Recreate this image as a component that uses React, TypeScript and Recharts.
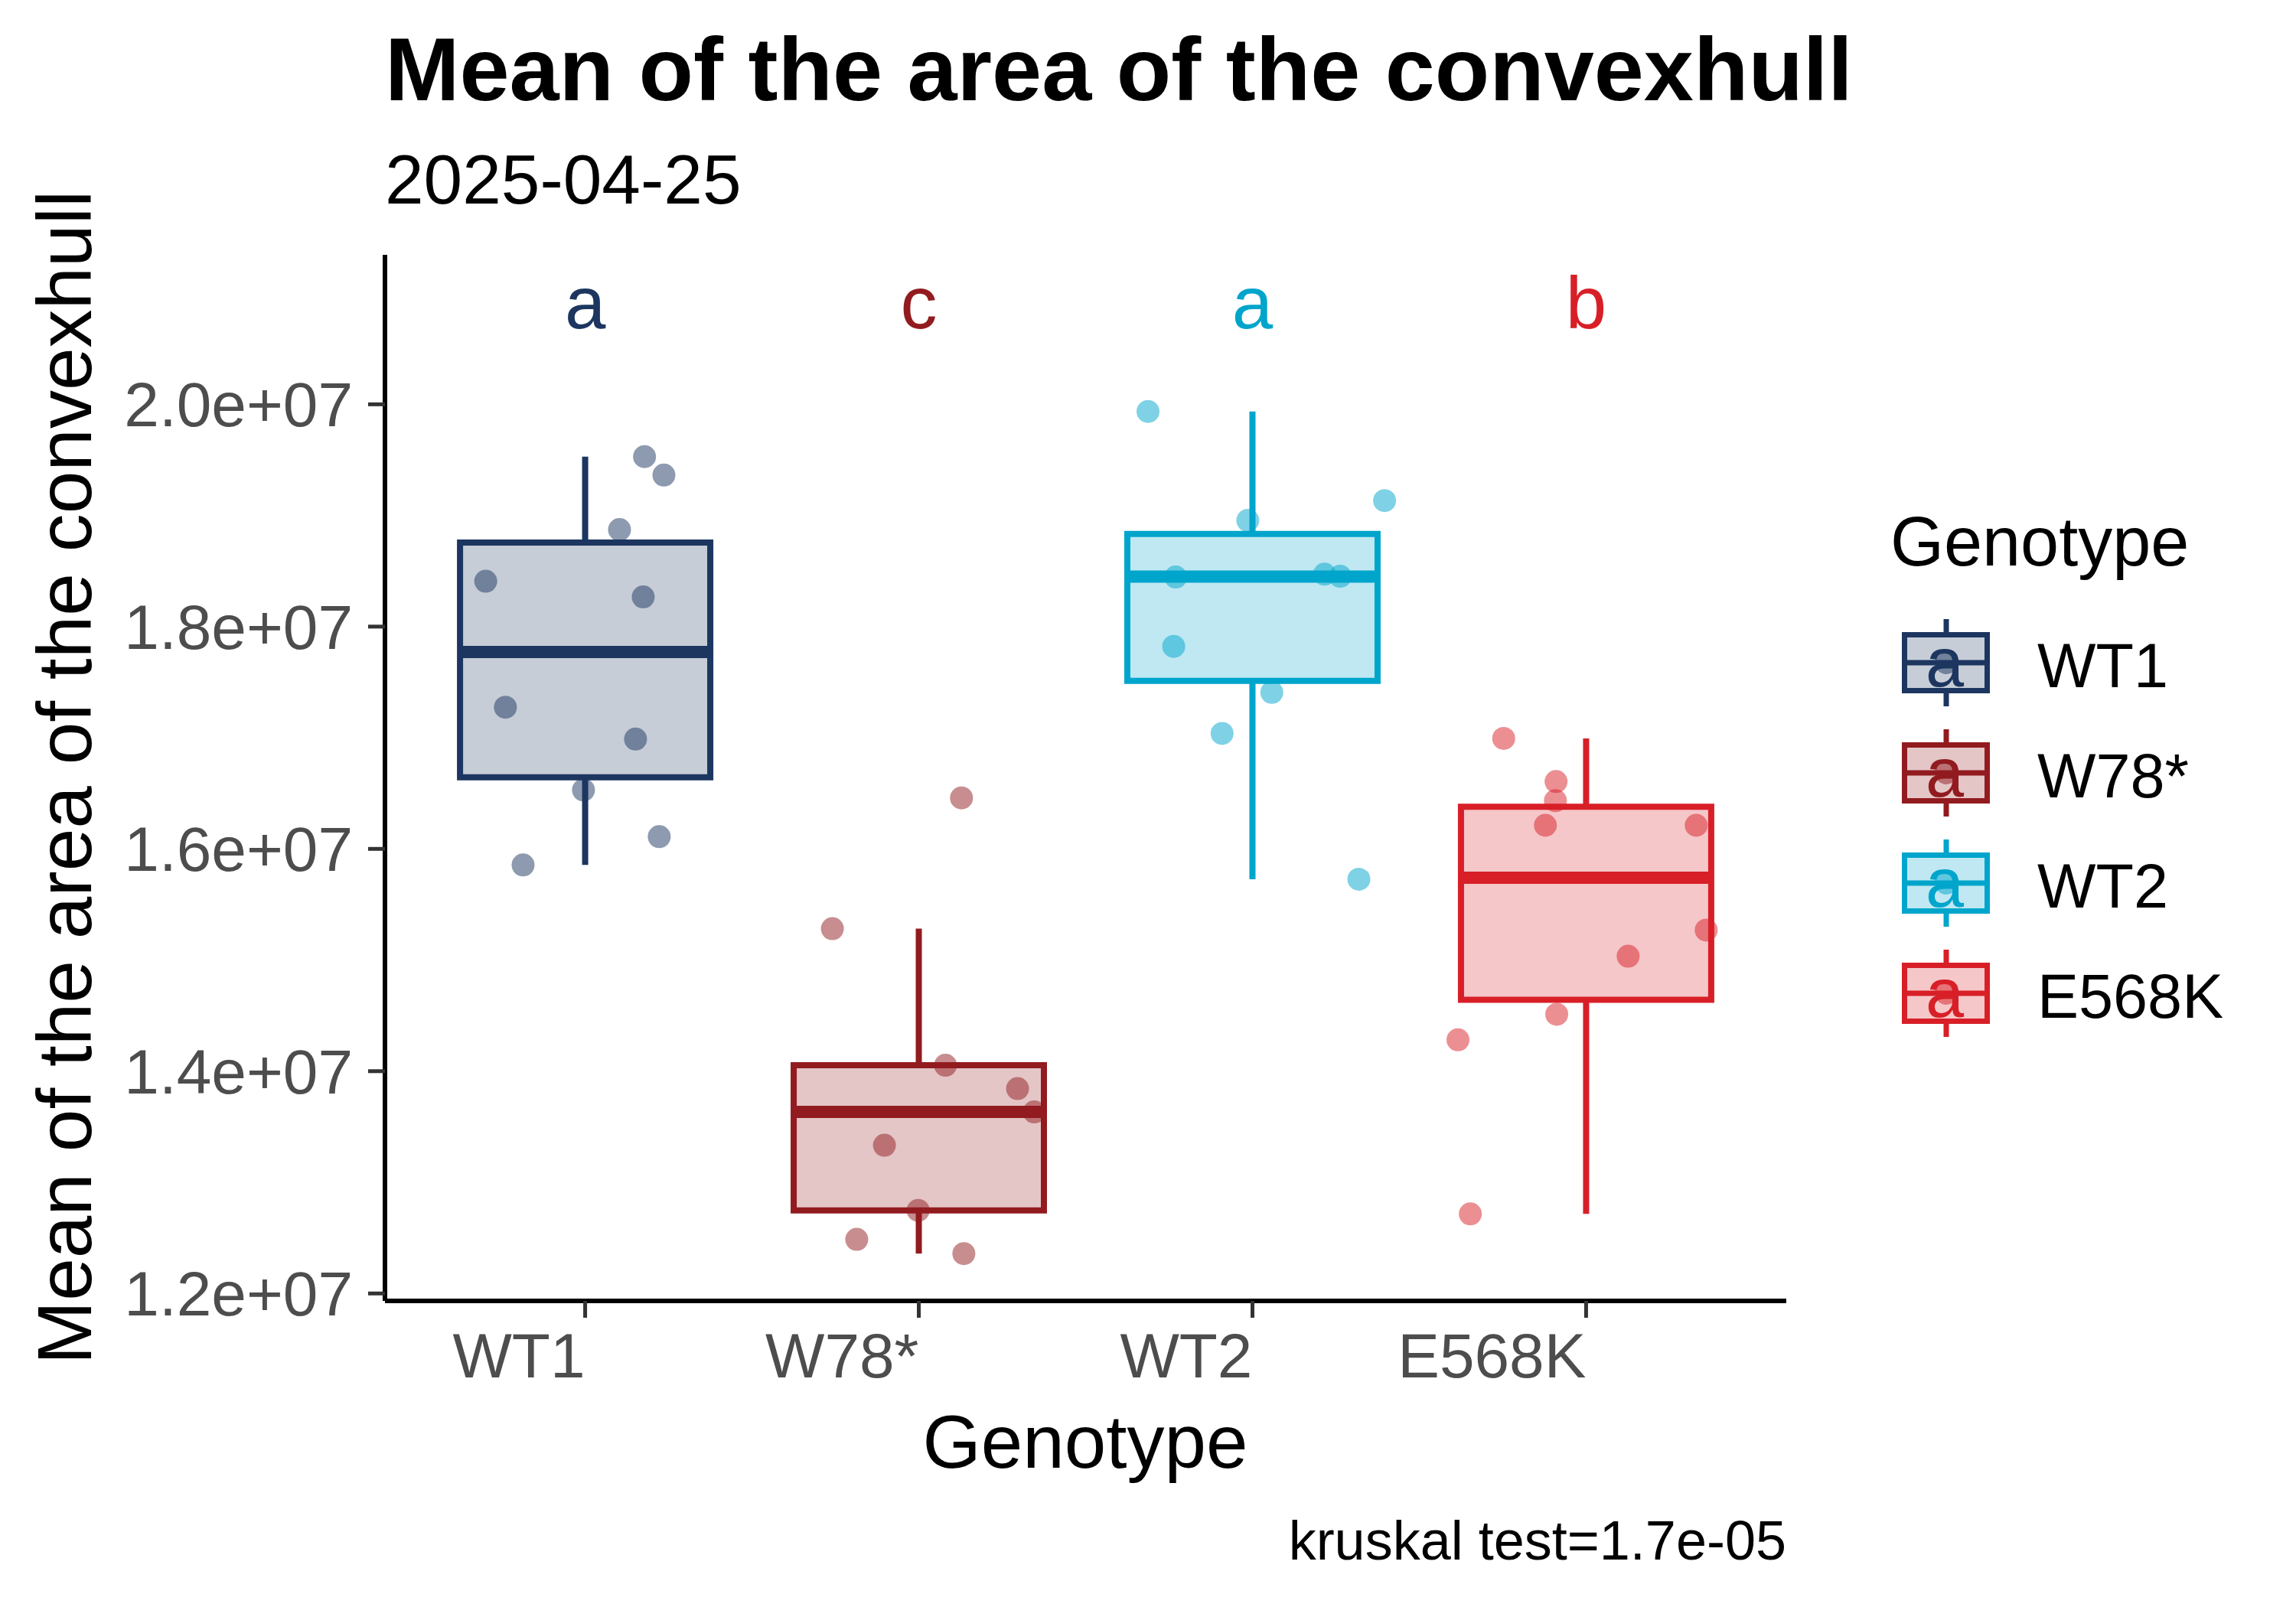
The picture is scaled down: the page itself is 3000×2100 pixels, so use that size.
import { ComposedChart, Scatter, XAxis, YAxis, ReferenceArea, ReferenceLine } from "recharts";

// genotypes, colours and significance letters
const genotypes = ["WT1", "W78*", "WT2", "E568K"];
const colors = ["#1C3660", "#921B1F", "#00A5CC", "#D81F27"];
const sigLetters = ["a", "c", "a", "b"];
const yTicks = [12000000, 14000000, 16000000, 18000000, 20000000];

// mean convex hull area per sample, with the horizontal jitter
const wt1Area = [19529000, 19363000, 18873000, 18408000, 18267000, 17275000, 16988000, 16530000, 16110000, 15855000];
const wt1Jitter = [0.178, 0.236, 0.103, -0.298, 0.174, -0.239, 0.151, -0.005, 0.222, -0.186];

const w78Area = [16459000, 15282000, 14053000, 13843000, 13633000, 13334000, 12748000, 12487000, 12359000];
const w78Jitter = [0.128, -0.259, 0.08, 0.296, 0.346, -0.103, -0.002, -0.186, 0.135];

const wt2Area = [19936000, 19134000, 18955000, 18446000, 18472000, 18453000, 17822000, 17408000, 17039000, 15727000];
const wt2Jitter = [-0.313, 0.396, -0.014, -0.23, 0.216, 0.263, -0.236, 0.058, -0.091, 0.319];

const e568kArea = [16994000, 16606000, 16434000, 16212000, 16212000, 15269000, 15034000, 14512000, 14282000, 12716000];
const e568kJitter = [-0.247, -0.09, -0.092, -0.122, 0.33, 0.36, 0.126, -0.088, -0.384, -0.347];

const letterY = 20920000;
const kruskal = "kruskal test=1.7e-05";

const areas = [wt1Area, w78Area, wt2Area, e568kArea];
const jitters = [wt1Jitter, w78Jitter, wt2Jitter, e568kJitter];

const FONT = "'Liberation Sans', Arial, sans-serif";
const HALF = 0.375;

const quantile = (s: number[], p: number) => {
  const h = (s.length - 1) * p;
  const lo = Math.floor(h);
  const hi = Math.min(lo + 1, s.length - 1);
  return s[lo] + (h - lo) * (s[hi] - s[lo]);
};

const boxStats = (vals: number[]) => {
  const s = [...vals].sort((a, b) => a - b);
  const q1 = quantile(s, 0.25);
  const med = quantile(s, 0.5);
  const q3 = quantile(s, 0.75);
  const iqr = q3 - q1;
  const lo = Math.min(...s.filter((v) => v >= q1 - 1.5 * iqr));
  const hi = Math.max(...s.filter((v) => v <= q3 + 1.5 * iqr));
  return { q1, med, q3, lo, hi };
};

const stats = areas.map(boxStats);
const points = areas.map((vals, g) => vals.map((y, i) => ({ x: g + 1 + jitters[g][i], y })));
const letterData = sigLetters.map((letter, g) => ({ x: g + 1, y: letterY, letter, color: colors[g] }));

const fmt = (v: number) => (v / 1e7).toFixed(1) + "e+07";

// x tick labels are right-aligned to the tick, as in the original
const XTick = (props: any) => (
  <text
    x={props.x}
    y={props.y}
    dy="0.71em"
    textAnchor="end"
    fontSize={82}
    fontFamily={FONT}
    fill="#4D4D4D"
  >
    {genotypes[Math.round(props.payload.value) - 1]}
  </text>
);

const Legend = () => (
  <g fontFamily={FONT}>
    <text x={2470} y={739} fontSize={90} fill="#000">Genotype</text>
    {genotypes.map((name, i) => {
      const cy = 866 + i * 144;
      const c = colors[i];
      return (
        <g key={name}>
          <line x1={2543} x2={2543} y1={cy - 57} y2={cy + 57} stroke={c} strokeWidth={7} />
          <rect x={2488.5} y={cy - 36.5} width={108} height={73} fill="#fff" />
          <rect x={2488.5} y={cy - 36.5} width={108} height={73} fill={c} fillOpacity={0.25} stroke={c} strokeWidth={7} />
          <line x1={2488.5} x2={2596.5} y1={cy} y2={cy} stroke={c} strokeWidth={7} />
          <circle cx={2543} cy={cy} r={15} fill={c} fillOpacity={0.5} />
          <text x={2541} y={cy + 31} fontSize={90} textAnchor="middle" fill={c}>a</text>
          <text x={2662} y={cy + 32} fontSize={81} fill="#000">{name}</text>
        </g>
      );
    })}
  </g>
);

export default function App() {
  return (
    <div style={{ position: "absolute", left: 0, top: 0, width: 3000, height: 2100, background: "#fff", fontFamily: FONT }}>
      <ComposedChart
        width={3000}
        height={2100}
        margin={{ top: 333, right: 666, bottom: 0, left: 103 }}
        style={{ position: "absolute", left: 0, top: 0 }}
      >
        <XAxis
          type="number"
          dataKey="x"
          domain={[0.4, 4.6]}
          ticks={[1, 2, 3, 4]}
          interval={0}
          allowDataOverflow
          height={400}
          tick={<XTick />}
          tickSize={22}
          tickMargin={20}
          axisLine={{ stroke: "#000", strokeWidth: 6 }}
          tickLine={{ stroke: "#333333", strokeWidth: 5 }}
        />
        <YAxis
          type="number"
          dataKey="y"
          domain={[11933000, 21345000]}
          ticks={yTicks}
          interval={0}
          allowDataOverflow
          tickFormatter={fmt}
          width={400}
          tick={{ fill: "#4D4D4D", fontSize: 82, fontFamily: FONT }}
          tickSize={22}
          tickMargin={20}
          axisLine={{ stroke: "#000", strokeWidth: 6 }}
          tickLine={{ stroke: "#333333", strokeWidth: 5 }}
        />
        {stats.map((s, g) => (
          <ReferenceLine
            key={"wu" + g}
            segment={[{ x: g + 1, y: s.q3 }, { x: g + 1, y: s.hi }]}
            stroke={colors[g]}
            strokeWidth={8}
          />
        ))}
        {stats.map((s, g) => (
          <ReferenceLine
            key={"wl" + g}
            segment={[{ x: g + 1, y: s.q1 }, { x: g + 1, y: s.lo }]}
            stroke={colors[g]}
            strokeWidth={8}
          />
        ))}
        {stats.map((s, g) => (
          <ReferenceArea
            key={"box" + g}
            x1={g + 1 - HALF}
            x2={g + 1 + HALF}
            y1={s.q1}
            y2={s.q3}
            fill={colors[g]}
            fillOpacity={0.25}
            stroke={colors[g]}
            strokeWidth={8}
            strokeOpacity={1}
          />
        ))}
        {stats.map((s, g) => (
          <ReferenceLine
            key={"med" + g}
            segment={[{ x: g + 1 - HALF, y: s.med }, { x: g + 1 + HALF, y: s.med }]}
            stroke={colors[g]}
            strokeWidth={16}
          />
        ))}
        {points.map((pts, g) => (
          <Scatter
            key={"pts" + g}
            data={pts}
            isAnimationActive={false}
            shape={(p: any) => <circle cx={p.cx} cy={p.cy} r={15} fill={colors[g]} fillOpacity={0.5} />}
          />
        ))}
        <Scatter
          data={letterData}
          isAnimationActive={false}
          shape={(p: any) => (
            <text x={p.cx} y={p.cy + 34} textAnchor="middle" fontSize={96} fontFamily={FONT} fill={p.payload.color}>
              {p.payload.letter}
            </text>
          )}
        />
      </ComposedChart>
      <svg width={3000} height={2100} style={{ position: "absolute", left: 0, top: 0, pointerEvents: "none" }}>
        <text x={503} y={131} fontSize={117} fontWeight="bold" fontFamily={FONT} fill="#000">
          Mean of the area of the convexhull
        </text>
        <text x={503} y={266} fontSize={91} fontFamily={FONT} fill="#000">2025-04-25</text>
        <text x={1418} y={1918} fontSize={98} fontFamily={FONT} textAnchor="middle" fill="#000">Genotype</text>
        <text
          transform="translate(119,1016) rotate(-90)"
          fontSize={100}
          fontFamily={FONT}
          textAnchor="middle"
          fill="#000"
        >
          Mean of the area of the convexhull
        </text>
        <text x={2334} y={2038} fontSize={72} fontFamily={FONT} textAnchor="end" fill="#000">{kruskal}</text>
        <Legend />
      </svg>
    </div>
  );
}
